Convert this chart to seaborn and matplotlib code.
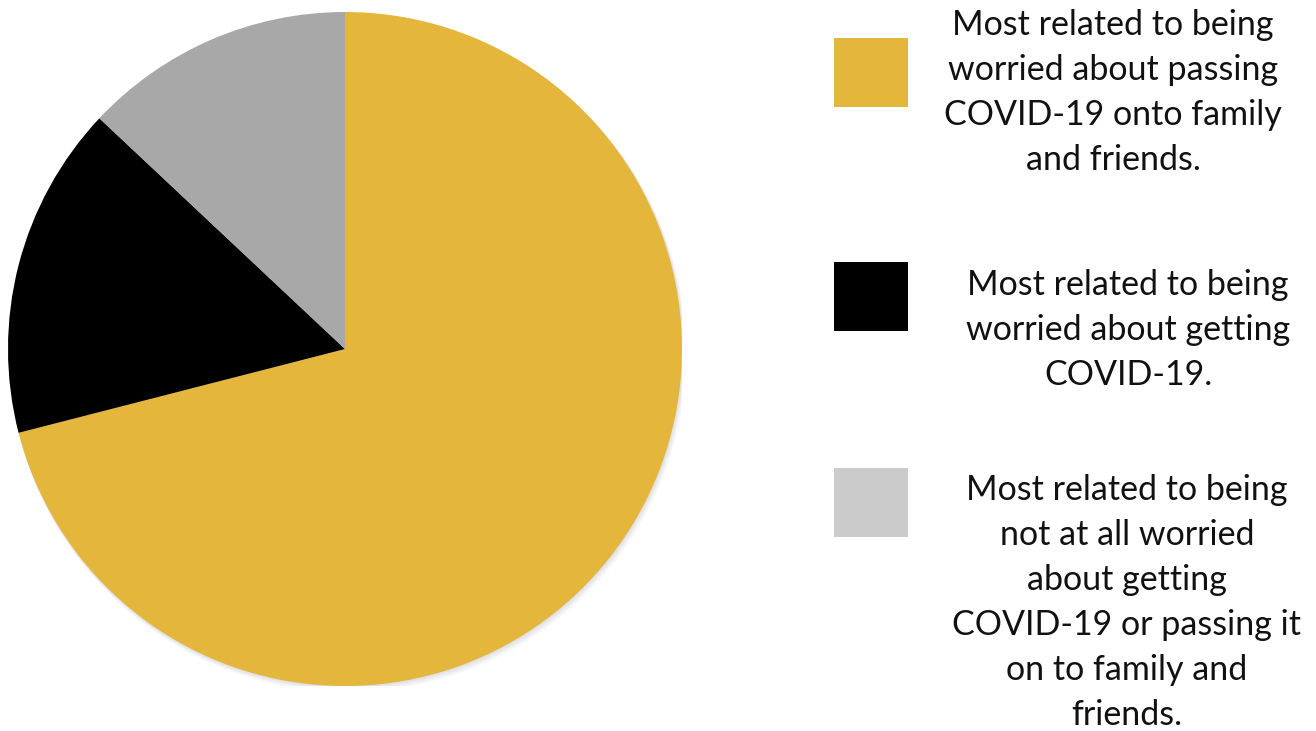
import matplotlib
matplotlib.use("Agg")
import matplotlib.pyplot as plt
import matplotlib.patches as mpatches
import seaborn as sns

# Share of responses by worry category
categories = [
    "Most related to being\nworried about passing\nCOVID-19 onto family\nand friends.",
    "Most related to being\nworried about getting\nCOVID-19.",
    "Most related to being\nnot at all worried\nabout getting\nCOVID-19 or passing it\non to family and\nfriends.",
]
shares = [71, 16, 13]
slice_colors = ["#E4B63B", "#000000", "#A8A8A8"]
key_colors = ["#E4B63B", "#000000", "#CBCBCB"]

sns.set_theme(style="white")
plt.rcParams["font.family"] = ["Lato", "DejaVu Sans"]

W, H = 1316, 731
fig = plt.figure(figsize=(W / 100, H / 100), dpi=100)
fig.patch.set_facecolor("white")

# Pie axes: centre (345, 349) px, radius 337 px
cx, cy, r = 345, 349, 337
ax = fig.add_axes([(cx - r) / W, (H - cy - r) / H, 2 * r / W, 2 * r / H])

# soft drop shadow under the pie
for i, a in enumerate([0.05, 0.05, 0.06, 0.08]):
    off = (4 - i) * 0.0035
    ax.add_patch(mpatches.Circle((off * 0.6, -off), 1.0 + off * 0.3,
                                 color="#7a7a95", alpha=a, lw=0, zorder=0))

wedges, _ = ax.pie(shares, colors=slice_colors, startangle=90,
                   counterclock=False, radius=1.0,
                   wedgeprops=dict(linewidth=0, antialiased=True))
for w in wedges:
    w.set_zorder(2)
ax.set_xlim(-1, 1)
ax.set_ylim(-1, 1)
ax.set_aspect("equal")
ax.axis("off")

# Key: square swatches and centred, wrapped descriptions
squares_top = [38, 262, 468]
first_line_y = [25, 285, 490]
text_cx = [1113, 1128, 1127]
line_gap = 45.0
sq_x, sq_w, sq_h = 834, 74, 69

for lbl, col, sq_t, y0, tx in zip(categories, key_colors, squares_top,
                                  first_line_y, text_cx):
    fig.patches.append(mpatches.Rectangle(
        (sq_x / W, (H - sq_t - sq_h) / H), sq_w / W, sq_h / H,
        transform=fig.transFigure, facecolor=col, edgecolor="none"))
    for k, line in enumerate(lbl.split("\n")):
        fig.text(tx / W, (H - (y0 + k * line_gap)) / H, line,
                 ha="center", va="center", fontsize=24.5, color="#111111")

fig.savefig("out.png", dpi=100, facecolor="white")
